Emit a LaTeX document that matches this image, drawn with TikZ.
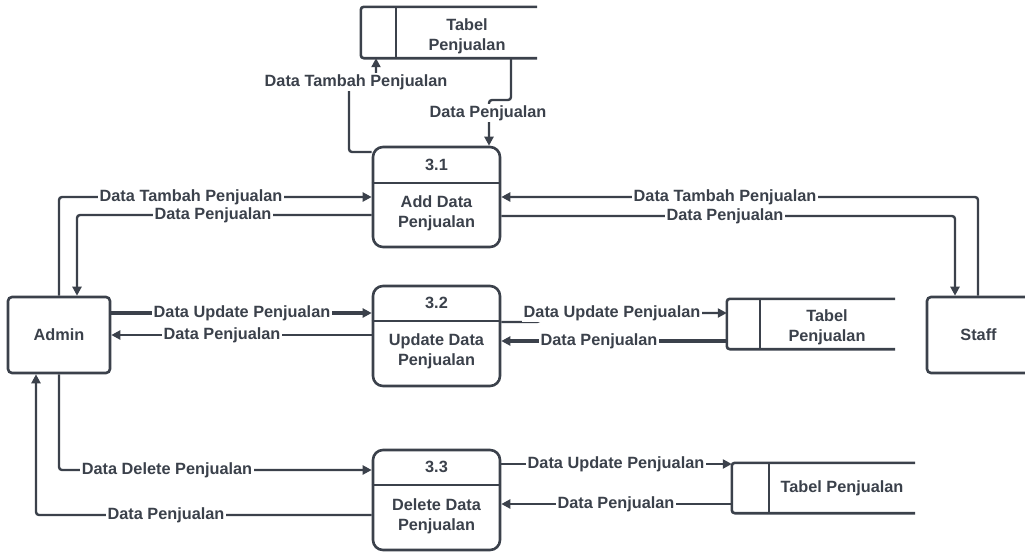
\documentclass[tikz,border=0pt]{standalone}
\usepackage{fontspec}
\setmainfont{Liberation Sans}
\usetikzlibrary{arrows.meta}
\definecolor{ink}{HTML}{3B414B}
\begin{document}
\begin{tikzpicture}[x=1pt,y=-1pt,
  font=\fontsize{16.3}{20}\selectfont\bfseries,
  entity/.style={draw=ink, line width=2.6pt, rounded corners=4pt, inner sep=0pt,
    minimum height=76pt, text=ink},
  proc/.style={draw=ink, line width=2.6pt, rounded corners=10pt, inner sep=0pt,
    minimum width=127pt, minimum height=100pt},
  storebox/.style={inner sep=0pt},
  border/.style={draw=ink, line width=2.6pt, rounded corners=3pt},
  flow/.style={draw=ink, line width=2.4pt, rounded corners=3pt,
    -{Triangle[length=9pt,width=9pt]}},
  heavy/.style={line width=3.8pt},
  lbl/.style={fill=white, text=ink, inner sep=1.5pt},
  txt/.style={text=ink, align=center, inner sep=0pt}]
\useasboundingbox (0,0) rectangle (1025,552);

% external entities
\node[entity, minimum width=102pt] (admin) at (59,335) {Admin};
\node[entity, minimum width=103pt] (staff) at (978.5,335) {Staff};

% processes
\node[proc] (p1) at (436.5,197) {};
\node[proc] (p2) at (436.5,336) {};
\node[proc] (p3) at (436.5,500) {};
\draw[border, rounded corners=0pt] (p1.west |- 0,183) -- (p1.east |- 0,183);
\draw[border, rounded corners=0pt] (p2.west |- 0,321) -- (p2.east |- 0,321);
\draw[border, rounded corners=0pt] (p3.west |- 0,485) -- (p3.east |- 0,485);
\node[txt] (p1n) at (436.5,165) {3.1};
\node[txt] (p1b) at (436.5,213) {Add Data\\Penjualan};
\node[txt] (p2n) at (436.5,303) {3.2};
\node[txt] (p2b) at (436.5,351) {Update Data\\Penjualan};
\node[txt] (p3n) at (436.5,467) {3.3};
\node[txt] (p3b) at (436.5,516.5) {Delete Data\\Penjualan};

% data stores
\node[storebox, minimum width=176pt, minimum height=51pt] (s1) at (449,32.5) {};
\draw[border] (s1.north east) -- (s1.north west) -- (s1.south west) -- (s1.south east);
\draw[border] ([xshift=35pt]s1.north west) -- ([xshift=35pt]s1.south west);
\node[txt] (s1t) at (467,36) {Tabel\\Penjualan};

\node[storebox, minimum width=168pt, minimum height=50pt] (s2) at (811,324) {};
\draw[border] (s2.north east) -- (s2.north west) -- (s2.south west) -- (s2.south east);
\draw[border] ([xshift=33pt]s2.north west) -- ([xshift=33pt]s2.south west);
\node[txt] (s2t) at (827,327) {Tabel\\Penjualan};

\node[storebox, minimum width=183pt, minimum height=50pt] (s3) at (823.5,488) {};
\draw[border] (s3.north east) -- (s3.north west) -- (s3.south west) -- (s3.south east);
\draw[border] ([xshift=37pt]s3.north west) -- ([xshift=37pt]s3.south west);
\node[txt] (s3t) at (842,488) {Tabel Penjualan};

% data flows
\draw[flow] (p1.west |- 0,152) -| (349,82) -| (376,0 |- s1.south);
\draw[flow] (511,0 |- s1.south) |- (489,100) -- (489,0 |- p1.north);
\draw[flow] (59,0 |- admin.north) |- (p1.west |- 0,197);
\draw[flow] (p1.west |- 0,215) -| (77,0 |- admin.north);
\draw[flow] (978,0 |- staff.north) |- (p1.east |- 0,197);
\draw[flow] (p1.east |- 0,216) -| (955,0 |- staff.north);
\draw[flow, heavy] (admin.east |- 0,313) -- (p2.west |- 0,313);
\draw[flow] (p2.west |- 0,335) -- (admin.east |- 0,335);
\draw[flow] (p2.east |- 0,322) -- (540,322) -- (540,313) -- (s2.west |- 0,313);
\draw[flow, heavy] (s2.west |- 0,341) -- (p2.east |- 0,341);
\draw[flow] (59,0 |- admin.south) |- (p3.west |- 0,470);
\draw[flow] (p3.west |- 0,515) -| (36,0 |- admin.south);
\draw[flow] (p3.east |- 0,464) -- (s3.west |- 0,464);
\draw[flow] (s3.west |- 0,504) -- (p3.east |- 0,504);

% flow labels
\node[lbl] (l1) at (356,82) {Data Tambah Penjualan};
\node[lbl] (l2) at (488,113) {Data Penjualan};
\node[lbl] (l3) at (191,197) {Data Tambah Penjualan};
\node[lbl] (l4) at (213,215) {Data Penjualan};
\node[lbl] (l5) at (725,197) {Data Tambah Penjualan};
\node[lbl] (l6) at (725,216) {Data Penjualan};
\node[lbl] (l7) at (242,313) {Data Update Penjualan};
\node[lbl] (l8) at (222,335) {Data Penjualan};
\node[lbl] (l9) at (612,313) {Data Update Penjualan};
\node[lbl] (l10) at (599,341) {Data Penjualan};
\node[lbl] (l11) at (167,470) {Data Delete Penjualan};
\node[lbl] (l12) at (166,515) {Data Penjualan};
\node[lbl] (l13) at (616,464) {Data Update Penjualan};
\node[lbl] (l14) at (616,504) {Data Penjualan};
\end{tikzpicture}
\end{document}
